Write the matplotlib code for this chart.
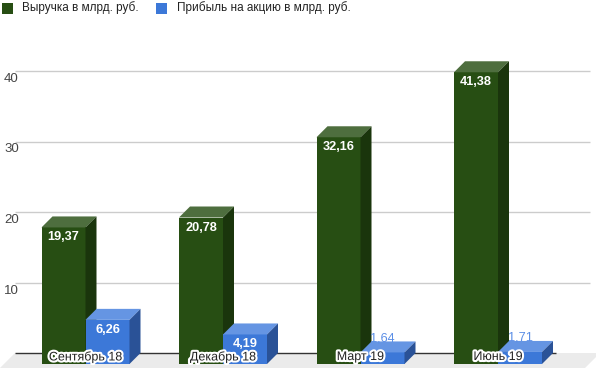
import matplotlib
matplotlib.use("Agg")
import matplotlib.pyplot as plt
from matplotlib.patches import Polygon, Rectangle
import matplotlib.patheffects as pe

categories = ["Сентябрь 18", "Декабрь 18", "Март 19", "Июнь 19"]
revenue = [19.37, 20.78, 32.16, 41.38]
eps = [6.26, 4.19, 1.64, 1.71]
series_names = ["Выручка в млрд. руб.", "Прибыль на акцию в млрд. руб."]
y_ticks = [10, 20, 30, 40]

plt.rcParams['font.family'] = ['Liberation Sans', 'DejaVu Sans']

W, H = 596, 368
fig = plt.figure(figsize=(W / 100, H / 100), dpi=100)

# pixel scales
PX_X = 137.5      # px per category
PX_Y = 7.05       # px per unit
X0_PX = 85.5      # px of first category center
BASE_PX = 4       # px from bottom of front zero
ax = fig.add_axes([0, BASE_PX / H, 1, (H - BASE_PX) / H])
xl = -X0_PX / PX_X
ax.set_xlim(xl, xl + W / PX_X)
ax.set_ylim(0, (H - BASE_PX) / PX_Y)
ax.axis('off')

DX = 11 / PX_X
DY = 11 / PX_Y
bw = 44 / PX_X

def xp(px):
    return xl + px / PX_X

# floor
yb = -BASE_PX / PX_Y
floor = Polygon([(xp(15), DY), (xp(600), DY), (xp(600 - 15), yb), (xp(0), yb)],
                closed=True, facecolor='#ebebeb', edgecolor='none', zorder=0, clip_on=False)
ax.add_patch(floor)
# gridlines on back wall
for v in y_ticks:
    ax.plot([xp(15), xp(590)], [v + DY, v + DY], color='#cccccc', lw=1, zorder=1, solid_capstyle='butt')
    ax.text(xp(4), v, str(v), ha='left', va='baseline', fontsize=9.5, color='#444444')
ax.plot([xp(15), xp(556)], [DY, DY], color='#333333', lw=1, zorder=1, solid_capstyle='butt')

green = ('#274e13', '#4e6e3e', '#1a350c')
blue = ('#3c78d8', '#6595e3', '#2a5297')

def bar3d(x0, v, cols, z):
    x1 = x0 + bw
    ax.add_patch(Rectangle((x0, 0), bw, v, facecolor=cols[0], edgecolor='none', zorder=z))
    ax.add_patch(Polygon([(x0, v), (x1, v), (x1 + DX, v + DY), (x0 + DX, v + DY)],
                         closed=True, facecolor=cols[1], edgecolor='none', zorder=z))
    ax.add_patch(Polygon([(x1, 0), (x1, v), (x1 + DX, v + DY), (x1 + DX, DY)],
                         closed=True, facecolor=cols[2], edgecolor='none', zorder=z))

def fmt(v):
    return f"{v:.2f}".replace('.', ',')

for i, (r, e) in enumerate(zip(revenue, eps)):
    bar3d(i - bw, r, green, 2 + i * 2)
    bar3d(i, e, blue, 3 + i * 2)
    ax.text(i - bw / 2, r - 10 / PX_Y, fmt(r), ha='center', va='center', color='white',
            fontsize=9.2, fontweight='bold', zorder=20)
    if e > 3:
        ax.text(i + bw / 2, e - 10 / PX_Y, fmt(e), ha='center', va='center', color='white',
                fontsize=9.2, fontweight='bold', zorder=20)
    else:
        ax.text(i + bw / 2, e + 14 / PX_Y, fmt(e), ha='center', va='center', color='#5b8ee6',
                fontsize=9.2, zorder=20)
    ax.text(i, 7 / PX_Y, categories[i], ha='center', va='center', color='#222222',
            fontsize=9, zorder=21,
            path_effects=[pe.withStroke(linewidth=3, foreground='white')])

# legend
for (xs, xt), name, col in zip([(2, 22), (156, 177)], series_names, [green[0], blue[0]]):
    fig.patches.append(Rectangle((xs / W, 1 - 14 / H), 11 / W, 11 / H, transform=fig.transFigure,
                                 facecolor=col, edgecolor='none'))
    fig.text(xt / W, 1 - 8 / H, name, ha='left', va='center', fontsize=8.5, color='#222222')

fig.savefig('out.png', dpi=100)
